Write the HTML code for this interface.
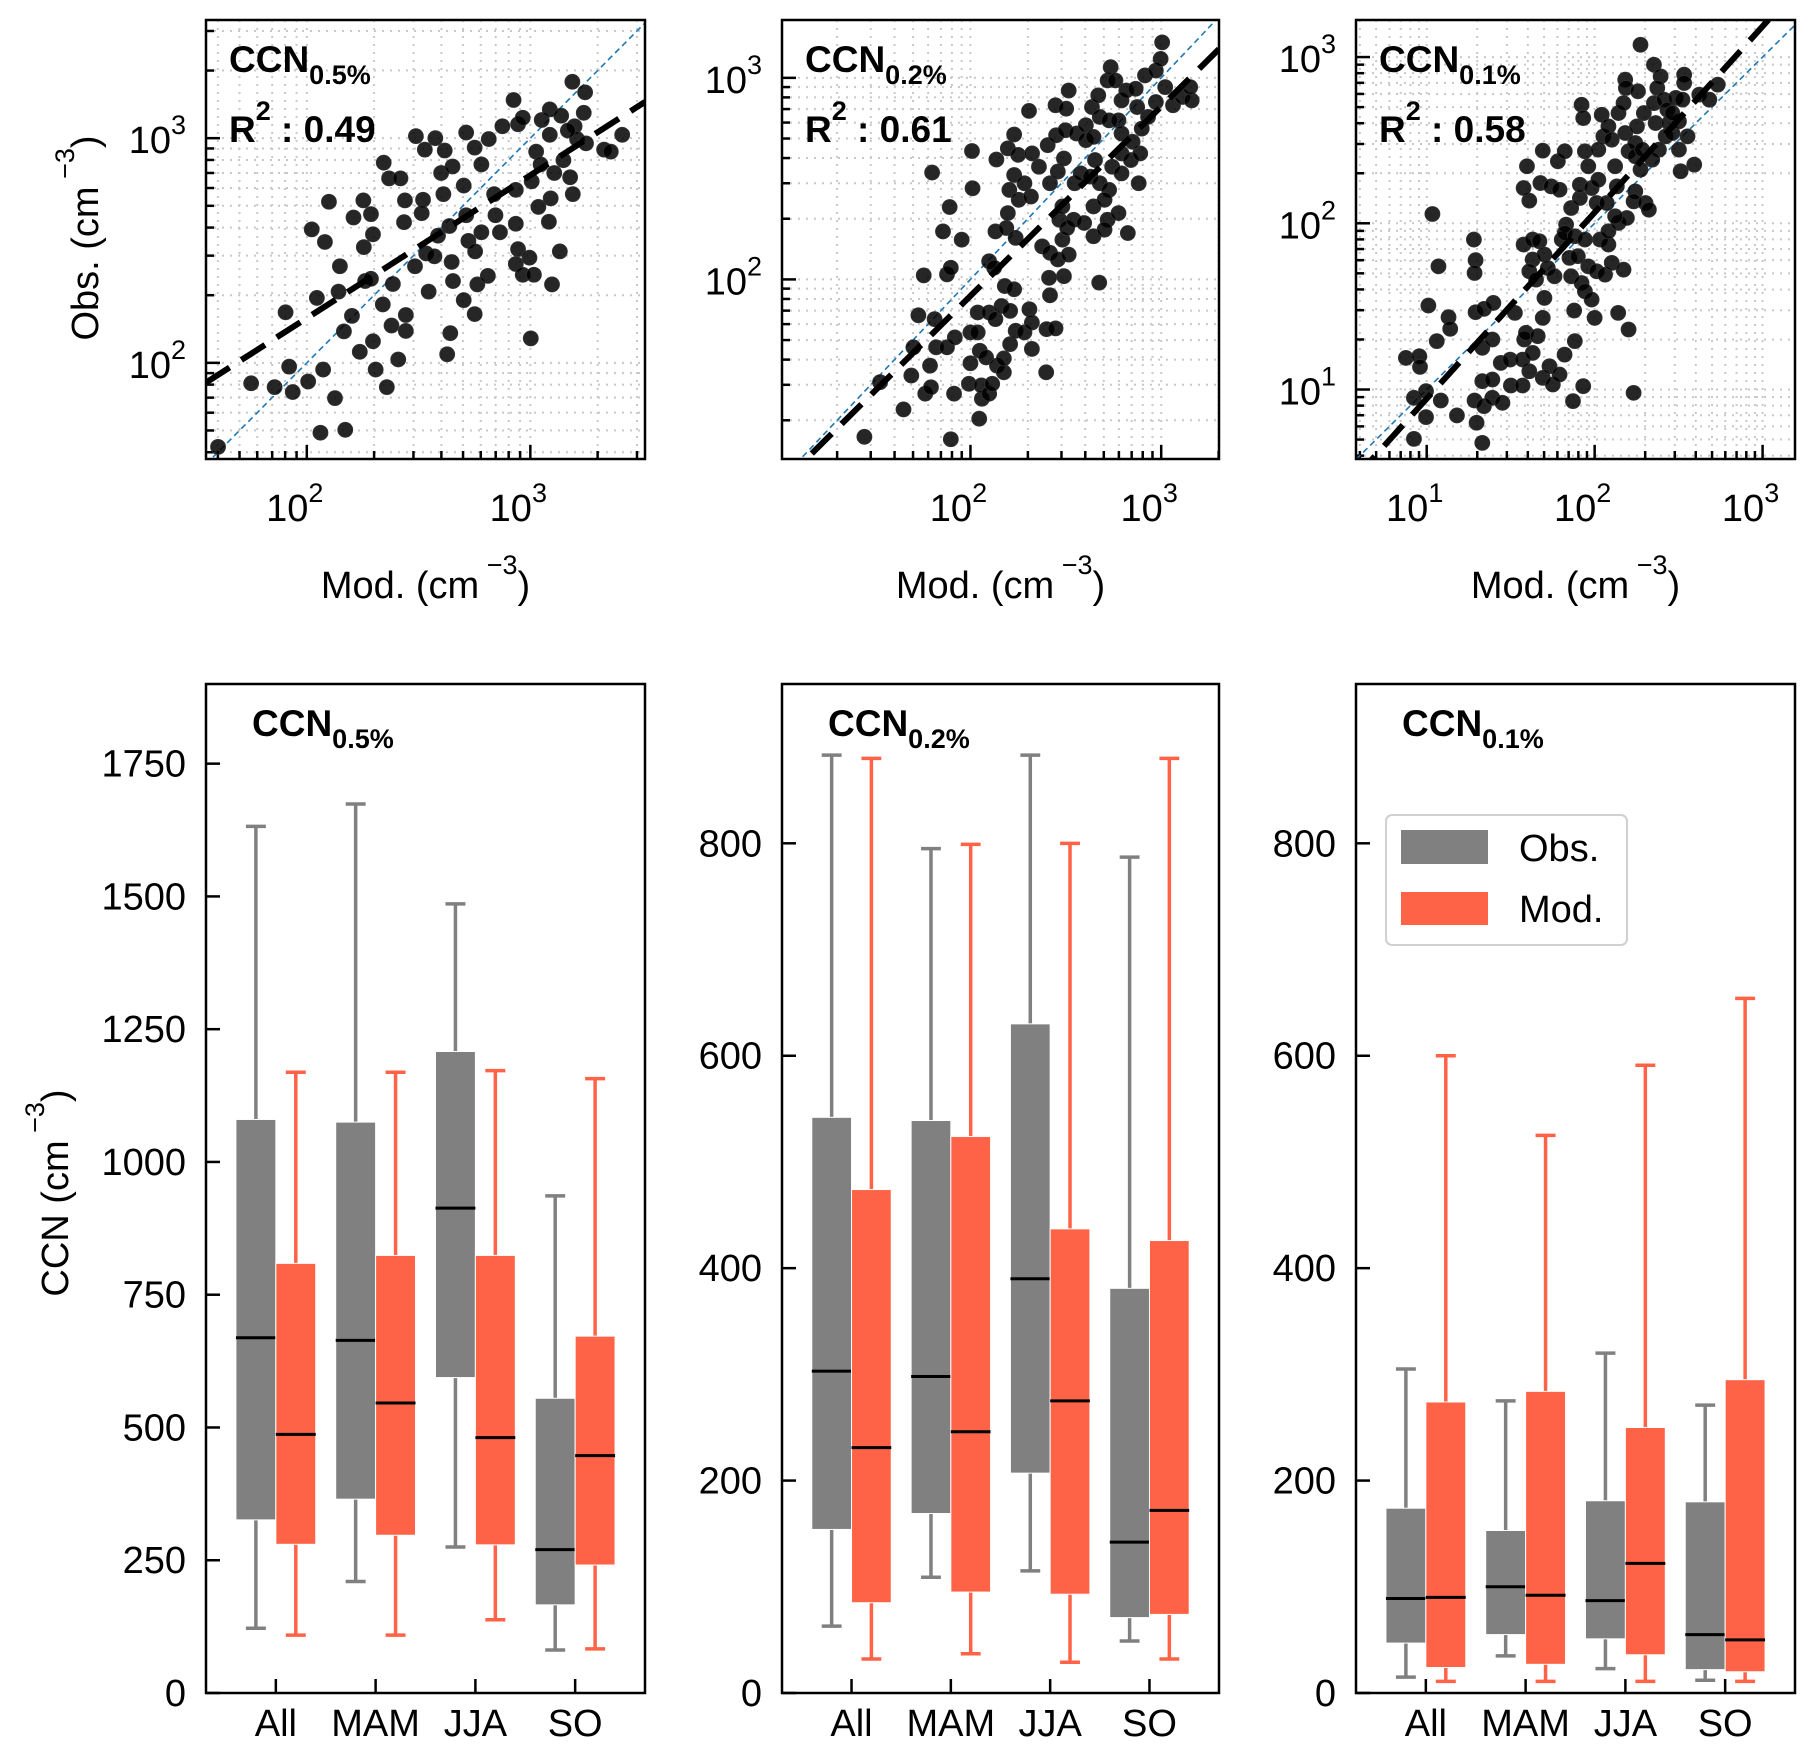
<!DOCTYPE html>
<html><head><meta charset="utf-8"><style>
html,body{margin:0;padding:0;background:#fff;}
svg{display:block;font-family:"Liberation Sans",Arial,sans-serif;}
</style></head><body>
<svg id="fig" width="1816" height="1757" viewBox="0 0 1816 1757" xmlns="http://www.w3.org/2000/svg"></svg>
<script>
// ---------- Scatter data (log10 Mod, log10 Obs) ----------
const scat1X=[1.603,1.751,1.856,1.937,1.921,2.006,2.073,2.061,2.172,2.126,1.905,2.045,2.022,2.081,2.099,2.148,2.142,2.166,2.202,2.209,2.253,2.255,2.287,2.296,2.261,2.287,2.237,2.296,2.308,2.340,2.358,2.385,2.379,2.409,2.443,2.443,2.435,2.439,2.344,2.368,2.419,2.488,2.528,2.575,2.520,2.514,2.484,2.545,2.534,2.571,2.587,2.601,2.617,2.652,2.611,2.638,2.648,2.654,2.642,2.628,2.702,2.751,2.763,2.810,2.723,2.753,2.781,2.713,2.702,2.713,2.751,2.781,2.814,2.838,2.844,2.864,2.875,2.925,2.945,2.966,2.935,2.935,2.945,2.935,2.966,2.996,3.016,3.002,3.026,3.006,3.036,3.083,3.051,3.087,3.138,3.091,3.097,3.132,3.107,3.148,3.178,3.190,3.188,3.245,3.239,3.198,3.209,3.249,3.330,3.360,3.411,3.087,3.046,3.168];
const scat1Y=[1.626,1.909,1.892,1.870,1.983,1.917,1.970,1.689,1.702,1.843,2.225,2.289,2.594,2.538,2.717,2.430,2.317,2.140,2.209,2.647,2.723,2.515,2.662,2.572,2.364,2.374,2.049,2.096,1.970,2.260,1.892,2.351,2.166,2.015,2.213,2.142,2.626,2.723,2.891,2.821,2.821,3.009,2.949,3.000,2.726,2.666,2.430,2.317,2.487,2.474,2.566,2.845,2.945,2.874,2.751,2.609,2.449,2.364,2.132,2.038,2.279,2.217,2.349,2.387,2.543,2.496,2.581,2.657,2.789,3.025,2.958,2.883,2.996,2.751,2.657,2.581,3.053,3.170,3.062,3.091,2.770,2.619,2.506,2.440,2.392,2.468,2.392,2.109,2.940,2.808,2.694,2.628,3.081,3.128,3.100,2.732,2.349,2.496,2.845,2.902,2.826,2.751,3.251,3.204,3.113,3.053,2.996,2.977,2.949,2.940,3.015,3.015,2.883,3.034];
const scat2X=[1.444,1.649,1.526,1.763,1.793,1.788,1.690,1.701,1.820,1.877,1.918,1.727,1.812,1.897,1.914,1.755,1.877,1.897,1.856,1.954,1.891,1.799,2.008,2.011,2.046,1.992,2.000,2.000,2.038,2.038,2.049,2.082,2.060,2.057,2.098,2.114,2.139,2.175,2.175,2.208,2.098,2.131,2.163,2.208,2.180,2.229,2.237,2.283,2.309,2.322,2.322,2.397,2.399,2.446,2.417,2.412,2.490,2.675,2.825,2.098,2.124,2.131,2.188,2.237,2.196,2.204,2.229,2.253,2.283,2.317,2.196,2.250,2.229,2.136,2.307,2.323,2.359,2.405,2.417,2.376,2.417,2.458,2.515,2.466,2.482,2.507,2.541,2.596,2.482,2.458,2.490,2.546,2.578,2.449,2.498,2.556,2.446,2.502,2.515,2.605,2.605,2.645,2.653,2.629,2.678,2.727,2.645,2.703,2.719,2.776,2.645,2.703,2.637,2.670,2.719,2.735,2.760,2.678,2.727,2.776,2.792,2.743,2.792,2.792,2.841,2.882,2.890,2.850,2.898,2.874,2.792,2.817,2.866,2.915,2.972,2.997,3.005,3.021,3.062,3.111,3.160,3.152,2.972,2.931];
const scat2Y=[1.219,1.355,1.490,1.433,1.465,1.572,1.523,1.663,1.663,1.663,1.712,1.822,1.803,1.207,1.433,2.020,2.025,2.058,2.238,2.197,2.359,2.530,2.637,2.452,1.309,1.482,1.584,1.737,1.737,1.836,1.646,1.613,1.408,1.474,1.433,1.482,1.572,1.539,1.608,1.679,1.836,1.803,1.868,1.844,1.967,1.951,1.745,1.737,1.852,1.786,1.655,1.539,1.753,1.757,1.921,2.008,2.016,1.984,2.230,2.090,2.058,2.238,2.255,2.206,2.329,2.444,2.518,2.395,2.477,2.411,2.650,2.618,2.719,2.595,2.836,2.625,2.559,2.666,2.477,2.164,2.132,2.099,2.123,2.296,2.197,2.255,2.296,2.280,2.362,2.535,2.600,2.477,2.526,2.715,2.740,2.724,2.864,2.847,2.937,2.765,2.691,2.707,2.592,2.510,2.477,2.444,2.362,2.395,2.296,2.329,2.214,2.247,2.855,2.913,2.987,3.053,2.987,2.806,2.789,2.789,2.724,2.559,2.625,2.526,2.592,2.477,2.625,2.683,2.748,2.855,2.888,2.937,2.946,3.012,3.036,3.094,3.176,2.954,2.864,2.905,2.888,2.954,2.880,2.806];
const scat3X=[0.924,0.924,0.996,0.996,0.876,0.956,0.960,1.084,1.180,1.060,1.010,1.130,1.140,1.070,1.034,1.281,1.291,1.285,1.291,1.331,1.297,1.285,1.341,1.391,1.331,1.391,1.331,1.391,1.341,1.397,1.451,1.441,1.497,1.501,1.571,1.525,1.611,1.571,1.581,1.591,1.631,1.661,1.691,1.701,1.691,1.751,1.731,1.791,1.821,1.871,1.932,1.882,1.878,2.000,2.140,2.202,2.232,1.577,1.631,1.671,1.631,1.611,1.651,1.701,1.721,1.761,1.804,1.830,1.860,1.850,1.860,1.900,1.922,1.942,1.982,1.962,2.012,2.062,2.102,2.172,1.822,1.882,1.942,2.032,2.082,2.082,2.142,2.192,2.012,2.072,2.122,1.611,1.577,1.597,1.677,1.741,1.791,1.781,1.691,1.822,1.912,1.912,1.942,1.962,1.982,2.022,1.922,1.932,2.042,2.052,2.022,2.082,2.102,2.122,2.132,2.142,2.172,2.182,2.202,2.242,2.242,2.242,2.232,2.303,2.323,2.273,2.283,2.182,2.186,2.258,2.252,2.273,2.293,2.353,2.353,2.363,2.393,2.373,2.413,2.433,2.443,2.423,2.463,2.383,2.343,2.502,2.512,2.553,2.593,2.483,2.523,2.533,2.533,2.623,2.683,2.733,2.502,2.463];
const scat3Y=[0.703,0.950,0.990,0.834,1.190,1.200,1.136,0.934,0.844,1.291,1.505,1.435,1.365,1.741,2.056,1.902,1.778,1.701,1.465,0.679,0.800,0.934,0.900,0.950,1.050,1.060,1.251,1.301,1.485,1.521,0.920,1.160,1.180,1.024,1.024,1.461,1.110,1.180,1.301,1.341,1.220,1.321,1.431,1.551,1.070,1.030,1.140,1.090,1.210,0.930,1.020,1.291,1.475,1.431,1.461,1.361,0.980,1.872,1.902,1.892,1.782,1.711,1.661,1.812,1.731,1.681,1.902,1.992,2.092,1.792,1.681,1.802,1.641,1.591,1.541,1.741,1.711,1.691,1.762,1.721,1.942,1.922,1.902,1.902,1.872,1.952,2.002,2.032,2.122,2.122,2.042,2.136,2.212,2.343,2.242,2.222,2.202,2.373,2.437,2.433,2.152,2.232,2.433,2.343,2.212,2.262,2.713,2.633,2.653,2.523,2.443,2.583,2.503,2.343,2.222,2.663,2.723,2.543,2.433,2.483,2.403,2.192,2.132,2.122,2.082,2.323,2.443,2.864,2.814,2.794,2.583,3.074,2.663,2.954,2.723,2.603,2.884,2.814,2.744,2.683,2.603,2.523,2.543,2.443,2.383,2.443,2.313,2.523,2.353,2.754,2.744,2.894,2.844,2.774,2.744,2.834,2.613,2.663];
// regression fits: log10(obs) = slope*log10(mod) + intercept
const fitSlope=[0.636,0.94,1.12];
const fitIntercept=[0.927,0.038,-0.175];
const r2Labels=["0.49","0.61","0.58"];
const ccnSubs=["0.5%","0.2%","0.1%"];

// ---------- Box data ----------
const groups=["All","MAM","JJA","SO"];
// [lowWhisker, q1, median, q3, highWhisker]
const box1Obs=[[122,326,669,1080,1632],[210,365,664,1075,1674],[275,594,913,1208,1486],[81,166,270,555,936]];
const box1Mod=[[109,280,487,809,1169],[109,297,546,824,1169],[138,279,481,824,1172],[83,241,447,672,1157]];
const box2Obs=[[63,154,303,542,883],[109,169,298,539,795],[115,207,390,630,883],[49,71,142,381,787]];
const box2Mod=[[32,85,231,474,880],[37,95,246,524,799],[29,93,275,437,800],[32,74,172,426,880]];
const box3Obs=[[15,47,89,174,305],[35,55,100,153,275],[23,51,87,181,320],[12,22,55,180,271]];
const box3Mod=[[11,24,90,274,600],[11,27,92,284,525],[11,36,122,250,591],[11,20,50,295,654]];
const yTicks1=[0,250,500,750,1000,1250,1500,1750];
const yTicks2=[0,200,400,600,800];

const NS="http://www.w3.org/2000/svg";
const svg=document.getElementById('fig');
const FS=38, FSS=27;
function mk(tag,attrs,parent){const e=document.createElementNS(NS,tag);for(const k in attrs)e.setAttribute(k,attrs[k]);(parent||svg).appendChild(e);return e;}

function powLabel(parent,x,y,exp,anchor){
  const t=mk('text',{x:x,y:y,'font-size':FS,'text-anchor':anchor,fill:'#000'},parent);
  
  
  t.appendChild(document.createTextNode('10'));
  const s=mk('tspan',{dy:-19,'font-size':FSS},t);s.textContent=exp;
  return t;
}

// ---------- Scatter panels ----------
const scatPanels=[
 {x0:206,x1:645,y0:20,y1:459,xl:[1.549,3.513],yl:[1.572,3.526],X:scat1X,Y:scat1Y},
 {x0:782,x1:1219,y0:20,y1:459,xl:[1.012,3.303],yl:[1.109,3.287],X:scat2X,Y:scat2Y},
 {x0:1356,x1:1795,y0:20,y1:459,xl:[0.579,3.193],yl:[0.582,3.223],X:scat3X,Y:scat3Y}
];
scatPanels.forEach((p,i)=>{
  const g=mk('g',{});
  
  
  const sx=v=>p.x0+(v-p.xl[0])/(p.xl[1]-p.xl[0])*(p.x1-p.x0);
  const sy=v=>p.y1-(v-p.yl[0])/(p.yl[1]-p.yl[0])*(p.y1-p.y0);
  const cid='clip'+i;
  const cp=mk('clipPath',{id:cid},g);mk('rect',{x:p.x0,y:p.y0,width:p.x1-p.x0,height:p.y1-p.y0},cp);
  const grid=mk('g',{'clip-path':'url(#'+cid+')'},g);
  
  
  const ticks=mk('g',{},g);
  for(let d=-1;d<5;d++){for(let m=1;m<10;m++){
    const v=d+Math.log10(m);
    if(v>=p.xl[0]&&v<=p.xl[1]){const x=sx(v);
      mk('line',{x1:x,x2:x,y1:p.y0,y2:p.y1,stroke:'#c8c8c8','stroke-width':2,'stroke-dasharray':'2,6'},grid);
      mk('line',{x1:x,x2:x,y1:p.y1,y2:p.y1-(m==1?14:8),stroke:'#000','stroke-width':2.5},ticks);
      if(m==1)powLabel(g,x-12,p.y1+62,d,'middle');}
    if(v>=p.yl[0]&&v<=p.yl[1]){const y=sy(v);
      mk('line',{x1:p.x0,x2:p.x1,y1:y,y2:y,stroke:'#c8c8c8','stroke-width':2,'stroke-dasharray':'2,6'},grid);
      mk('line',{x1:p.x0,x2:p.x0+(m==1?14:8),y1:y,y2:y,stroke:'#000','stroke-width':2.5},ticks);
      if(m==1)powLabel(g,p.x0-20,y+15,d,'end');}
  }}
  const lo=Math.min(p.xl[0],p.yl[0]),hi=Math.max(p.xl[1],p.yl[1]);
  const one=mk('line',{x1:sx(lo),y1:sy(lo),x2:sx(hi),y2:sy(hi),stroke:'#1f77b4','stroke-width':1.6,'stroke-dasharray':'6,4','clip-path':'url(#'+cid+')'},g);
  
  
  const pts=mk('g',{'clip-path':'url(#'+cid+')'},g);
  
  
  for(let k=0;k<p.X.length;k++){
    const c=mk('circle',{cx:sx(p.X[k]),cy:sy(p.Y[k]),r:7.5,fill:'#000','fill-opacity':0.85,stroke:'#333','stroke-width':0.8},pts);
    
    
  }
  const fl=mk('line',{x1:sx(p.xl[0]),y1:sy(fitSlope[i]*p.xl[0]+fitIntercept[i]),x2:sx(p.xl[1]),y2:sy(fitSlope[i]*p.xl[1]+fitIntercept[i]),stroke:'#000','stroke-width':6,'stroke-dasharray':'28,14','clip-path':'url(#'+cid+')'},g);
  
  
  mk('rect',{x:p.x0,y:p.y0,width:p.x1-p.x0,height:p.y1-p.y0,fill:'none',stroke:'#000','stroke-width':2.5},g);
  const t=mk('text',{x:p.x0+23,y:p.y0+52,'font-size':37,'font-weight':'bold'},g);
  
  
  t.appendChild(document.createTextNode('CCN'));
  const ts=mk('tspan',{dy:12,'font-size':27},t);ts.textContent=ccnSubs[i];
  const r=mk('text',{x:p.x0+23,y:p.y0+122,'font-size':37,'font-weight':'bold'},g);
  
  
  r.appendChild(document.createTextNode('R'));
  const rs=mk('tspan',{dy:-22,'font-size':27},r);rs.textContent='2';
  const rv=mk('tspan',{dy:22},r);rv.textContent=' : '+r2Labels[i];
  const xl=mk('text',{x:(p.x0+p.x1)/2,y:598,'font-size':FS,'text-anchor':'middle'},g);
  
  
  xl.appendChild(document.createTextNode('Mod. (cm'));
  const xs=mk('tspan',{dy:-24,'font-size':FSS},xl);xs.textContent=' \u22123';
  const xe=mk('tspan',{dy:24},xl);xe.textContent=')';
});
(function(){
  const t=mk('text',{x:0,y:0,'font-size':FS,'text-anchor':'middle',transform:'translate(98,238) rotate(-90)'});
  
  
  t.appendChild(document.createTextNode('Obs. (cm'));
  const s=mk('tspan',{dy:-24,'font-size':FSS},t);s.textContent=' \u22123';
  const e=mk('tspan',{dy:24},t);e.textContent=')';
})();

// ---------- Box panels ----------
const boxPanels=[
 {x0:206,x1:645,ymax:1900,ticks:yTicks1,obs:box1Obs,mod:box1Mod},
 {x0:782,x1:1219,ymax:950,ticks:yTicks2,obs:box2Obs,mod:box2Mod},
 {x0:1356,x1:1795,ymax:950,ticks:yTicks2,obs:box3Obs,mod:box3Mod}
];
const by0=684,by1=1693;
boxPanels.forEach((p,i)=>{
  const g=mk('g',{});
  
  
  const sx=v=>p.x0+(v-0.3)/4.4*(p.x1-p.x0);
  const sy=v=>by1-v/p.ymax*(by1-by0);
  const bw=sx(0.4)-sx(0);
  function drawBox(d,cx,color,label){
    const bg=mk('g',{},g);
    
    
    mk('line',{x1:cx,x2:cx,y1:sy(d[0]),y2:sy(d[1]),stroke:color,'stroke-width':3.5},bg);
    mk('line',{x1:cx,x2:cx,y1:sy(d[3]),y2:sy(d[4]),stroke:color,'stroke-width':3.5},bg);
    mk('line',{x1:cx-bw/4,x2:cx+bw/4,y1:sy(d[0]),y2:sy(d[0]),stroke:color,'stroke-width':3.5},bg);
    mk('line',{x1:cx-bw/4,x2:cx+bw/4,y1:sy(d[4]),y2:sy(d[4]),stroke:color,'stroke-width':3.5},bg);
    mk('rect',{x:cx-bw/2,y:sy(d[3]),width:bw,height:sy(d[1])-sy(d[3]),fill:color,stroke:'#fff','stroke-width':1},bg);
    mk('line',{x1:cx-bw/2,x2:cx+bw/2,y1:sy(d[2]),y2:sy(d[2]),stroke:'#000','stroke-width':3},bg);
  }
  groups.forEach((gname,k)=>{
    const pos=k+1;
    drawBox(p.obs[k],sx(pos-0.2),'#808080','box-obs-'+gname.toLowerCase());
    drawBox(p.mod[k],sx(pos+0.2),'#ff6347','box-mod-'+gname.toLowerCase());
    mk('line',{x1:sx(pos),x2:sx(pos),y1:by1,y2:by1-14,stroke:'#000','stroke-width':2.5},g);
    const t=mk('text',{x:sx(pos),y:by1+43,'font-size':FS,'text-anchor':'middle'},g);
    
    
    t.textContent=gname;
  });
  p.ticks.forEach(v=>{
    const y=sy(v);
    mk('line',{x1:p.x0,x2:p.x0+14,y1:y,y2:y,stroke:'#000','stroke-width':2.5},g);
    const t=mk('text',{x:p.x0-20,y:y+13,'font-size':FS,'text-anchor':'end'},g);
    
    
    t.textContent=v;
  });
  mk('rect',{x:p.x0,y:by0,width:p.x1-p.x0,height:by1-by0,fill:'none',stroke:'#000','stroke-width':2.5},g);
  const t=mk('text',{x:p.x0+46,y:by0+52,'font-size':37,'font-weight':'bold'},g);
  
  
  t.appendChild(document.createTextNode('CCN'));
  const ts=mk('tspan',{dy:12,'font-size':27},t);ts.textContent=ccnSubs[i];
});
(function(){
  const t=mk('text',{x:0,y:0,'font-size':FS,'text-anchor':'middle',transform:'translate(68,1193) rotate(-90)'});
  
  
  t.appendChild(document.createTextNode('CCN (cm'));
  const s=mk('tspan',{dy:-24,'font-size':FSS},t);s.textContent=' \u22123';
  const e=mk('tspan',{dy:24},t);e.textContent=')';
})();
(function(){
  const g=mk('g',{});
  
  
  mk('rect',{x:1386,y:815,width:241,height:130,rx:6,fill:'#fff',stroke:'#d0d0d0','stroke-width':2},g);
  mk('rect',{x:1401,y:830,width:87,height:34,fill:'#808080'},g);
  mk('rect',{x:1401,y:892,width:87,height:33,fill:'#ff6347'},g);
  const a=mk('text',{x:1519,y:861,'font-size':FS},g);a.textContent='Obs.';
  
  
  const b=mk('text',{x:1519,y:922,'font-size':FS},g);b.textContent='Mod.';
  
  
})();
</script>
</body></html>
